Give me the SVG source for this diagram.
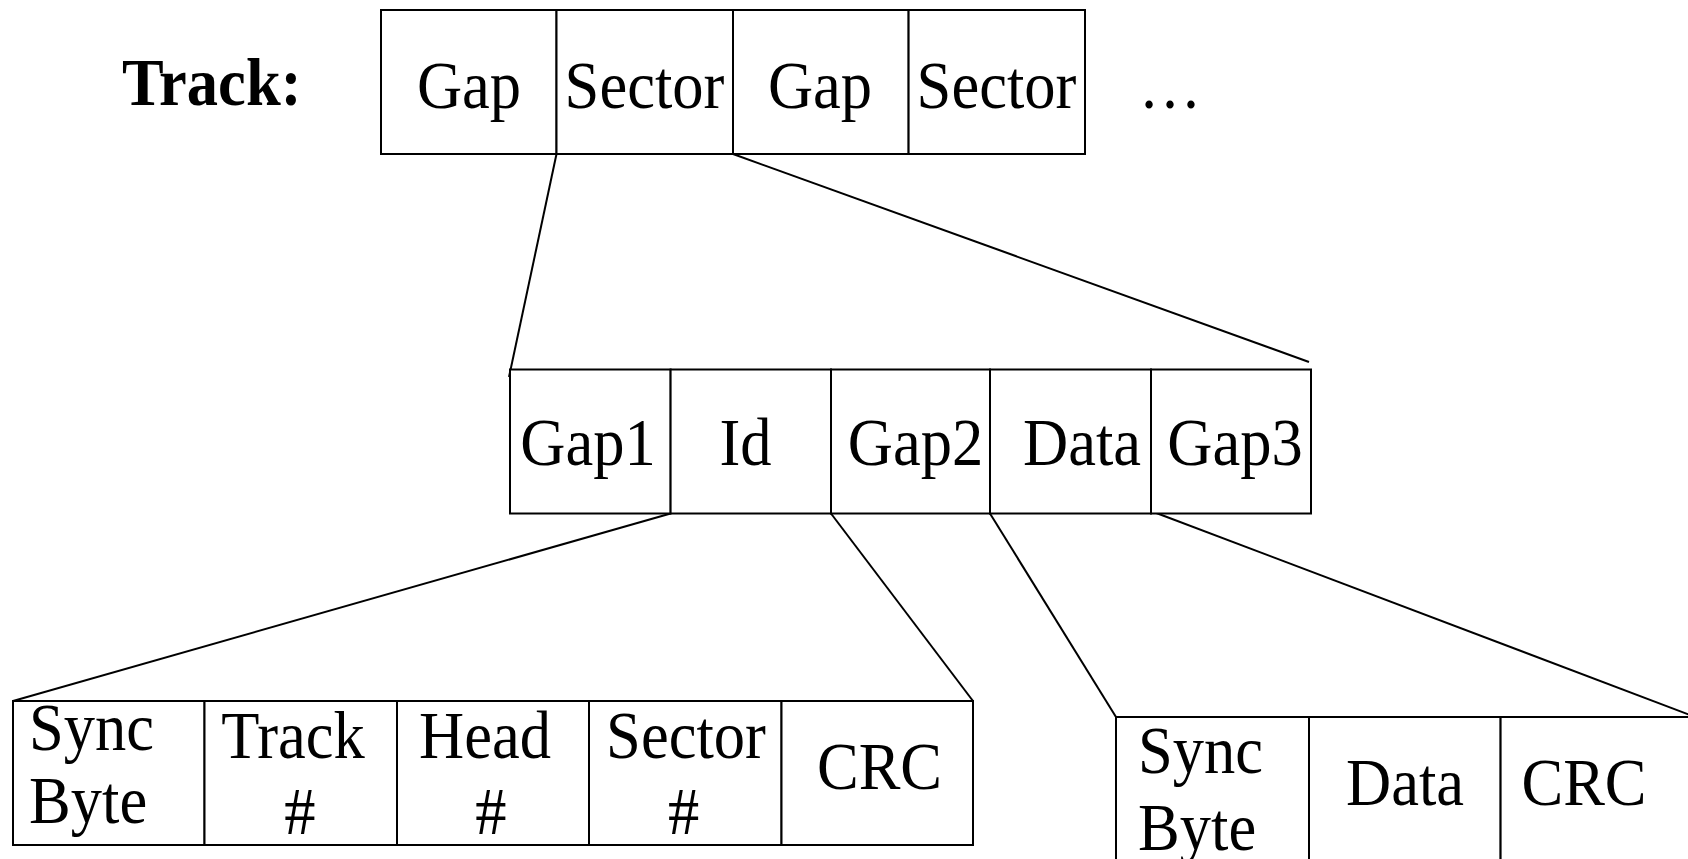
<svg xmlns="http://www.w3.org/2000/svg" width="1688" height="859" viewBox="0 0 1688 859">
<style>
.box{fill:#fff;stroke:#000;stroke-width:2}
.ln{stroke:#000;stroke-width:2;fill:none}
text{font-family:"Liberation Serif","Times New Roman",serif;font-size:68px;fill:#000}
.c{text-anchor:middle}
.b{font-weight:bold}
</style>
<rect width="1688" height="859" fill="#fff"/>
<g id="connectors">
<line class="ln" x1="556.5" y1="154" x2="509" y2="377"/>
<line class="ln" x1="733" y1="154" x2="1309" y2="362"/>
<line class="ln" x1="670.6" y1="513.5" x2="13" y2="701"/>
<line class="ln" x1="831" y1="513.5" x2="973" y2="701"/>
<line class="ln" x1="990" y1="513.5" x2="1116" y2="717"/>
<line class="ln" x1="1151" y1="511" x2="1690" y2="715"/>
</g>
<g id="track-label">
<text class="b" transform="translate(122,105) scale(0.92,1)">Track:</text>
</g>
<g id="track">
<rect class="box" x="381" y="10" width="175.5" height="144"/>
<rect class="box" x="556.5" y="10" width="176.5" height="144"/>
<rect class="box" x="733" y="10" width="175.6" height="144"/>
<rect class="box" x="908.6" y="10" width="176.4" height="144"/>
<text class="c" transform="translate(469,108) scale(0.92,1)">Gap</text>
<text class="c" transform="translate(644.5,108) scale(0.92,1)">Sector</text>
<text class="c" transform="translate(820,108) scale(0.92,1)">Gap</text>
<text class="c" transform="translate(996.5,108) scale(0.92,1)">Sector</text>
<text class="c" transform="translate(1170,108) scale(0.92,1)">…</text>
</g>
<g id="sector">
<rect class="box" x="510" y="369.5" width="160.6" height="144"/>
<rect class="box" x="670.6" y="369.5" width="160.4" height="144"/>
<rect class="box" x="831" y="369.5" width="159" height="144"/>
<rect class="box" x="990" y="369.5" width="161" height="144"/>
<rect class="box" x="1151" y="369.5" width="160" height="144"/>
<text class="c" transform="translate(588,465) scale(0.92,1)">Gap1</text>
<text class="c" transform="translate(745.5,465) scale(0.92,1)">Id</text>
<text class="c" transform="translate(915.6,465) scale(0.92,1)">Gap2</text>
<text class="c" transform="translate(1082,465) scale(0.92,1)">Data</text>
<text class="c" transform="translate(1235,465) scale(0.92,1)">Gap3</text>
</g>
<g id="id-field">
<rect class="box" x="13" y="701" width="191.5" height="144"/>
<rect class="box" x="204.5" y="701" width="192.5" height="144"/>
<rect class="box" x="397" y="701" width="192" height="144"/>
<rect class="box" x="589" y="701" width="192.5" height="144"/>
<rect class="box" x="781.5" y="701" width="191.5" height="144"/>
<text transform="translate(29,750) scale(0.92,1)">Sync</text>
<text transform="translate(29,823) scale(0.92,1)">Byte</text>
<text class="c" transform="translate(293,758) scale(0.92,1)">Track</text>
<text class="c" transform="translate(300,834) scale(0.92,1)">#</text>
<text class="c" transform="translate(485,758) scale(0.92,1)">Head</text>
<text class="c" transform="translate(491,834) scale(0.92,1)">#</text>
<text class="c" transform="translate(686,758) scale(0.92,1)">Sector</text>
<text class="c" transform="translate(683.6,834) scale(0.92,1)">#</text>
<text class="c" transform="translate(879.5,789) scale(0.92,1)">CRC</text>
</g>
<g id="data-field">
<rect class="box" x="1116" y="717" width="193" height="160"/>
<rect class="box" x="1309" y="717" width="191.6" height="160"/>
<rect class="box" x="1500.6" y="717" width="192" height="160"/>
<text transform="translate(1138,773) scale(0.92,1)">Sync</text>
<text transform="translate(1138,850) scale(0.92,1)">Byte</text>
<text class="c" transform="translate(1405,805) scale(0.92,1)">Data</text>
<text class="c" transform="translate(1584,805) scale(0.92,1)">CRC</text>
</g>
</svg>
